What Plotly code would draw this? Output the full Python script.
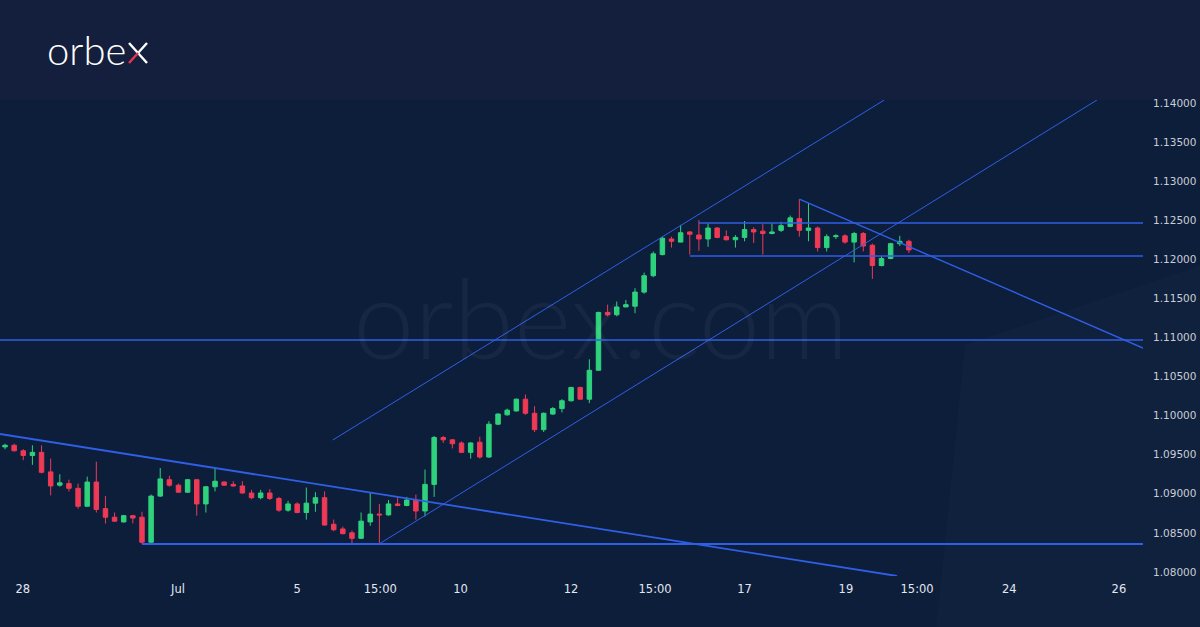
import plotly.graph_objects as go

# ---- 4H candles (EURUSD, late Jun - Jul) ----
opens = [1.0960, 1.0962, 1.0955, 1.0949, 1.0953, 1.0928, 1.0911, 1.0913, 1.0907, 1.0884,
         1.0915, 1.0881, 1.0870, 1.0864, 1.0872, 1.0870, 1.0838, 1.0897, 1.0918, 1.0911,
         1.0902, 1.0918, 1.0887, 1.0909, 1.0915, 1.0912, 1.0910, 1.0901, 1.0895, 1.0901,
         1.0894, 1.0879, 1.0887, 1.0876, 1.0888, 1.0895, 1.0861, 1.0855, 1.0850, 1.0843,
         1.0864, 1.0874, 1.0873, 1.0887, 1.0885, 1.0892, 1.0878, 1.0912, 1.0972, 1.0969,
         1.0965, 1.0953, 1.0966, 1.0947, 1.0989, 1.1001, 1.1006, 1.1021, 1.1003, 1.0982,
         1.1002, 1.1009, 1.1019, 1.1036, 1.1021, 1.1058, 1.1132, 1.1129, 1.1139, 1.1140,
         1.1158, 1.1179, 1.1206, 1.1226, 1.1222, 1.1235, 1.1231, 1.1226, 1.1240, 1.1229,
         1.1225, 1.1228, 1.1238, 1.1236, 1.1233, 1.1237, 1.1242, 1.1252, 1.1237, 1.1240,
         1.1215, 1.1229, 1.1230, 1.1222, 1.1233, 1.1218, 1.1192, 1.1201, 1.1220, 1.1223]
highs = [1.0964, 1.0964, 1.0957, 1.0962, 1.0962, 1.0945, 1.0925, 1.0918, 1.0913, 1.0922,
         1.0941, 1.0897, 1.0876, 1.0873, 1.0873, 1.0877, 1.0899, 1.0933, 1.0923, 1.0913,
         1.0919, 1.0919, 1.0910, 1.0933, 1.0916, 1.0916, 1.0916, 1.0905, 1.0905, 1.0906,
         1.0896, 1.0891, 1.0889, 1.0908, 1.0902, 1.0903, 1.0867, 1.0858, 1.0853, 1.0876,
         1.0901, 1.0887, 1.0892, 1.0896, 1.0896, 1.0899, 1.0931, 1.0974, 1.0974, 1.0970,
         1.0967, 1.0966, 1.0973, 1.0993, 1.1003, 1.1009, 1.1022, 1.1027, 1.1012, 1.1004,
         1.1011, 1.1021, 1.1037, 1.1037, 1.1072, 1.1133, 1.1142, 1.1146, 1.1148, 1.1163,
         1.1183, 1.1210, 1.1229, 1.1229, 1.1244, 1.1236, 1.1250, 1.1246, 1.1241, 1.1237,
         1.1231, 1.1249, 1.1241, 1.1245, 1.1246, 1.1248, 1.1256, 1.1277, 1.1272, 1.1242,
         1.1232, 1.1232, 1.1232, 1.1235, 1.1235, 1.1220, 1.1204, 1.1221, 1.1230, 1.1225]
lows = [1.0957, 1.0954, 1.0943, 1.0937, 1.0926, 1.0898, 1.0909, 1.0903, 1.0881, 1.0884,
        1.0876, 1.0862, 1.0864, 1.0863, 1.0862, 1.0836, 1.0837, 1.0896, 1.0909, 1.0901,
        1.0901, 1.0872, 1.0876, 1.0903, 1.0910, 1.0909, 1.0900, 1.0893, 1.0893, 1.0892,
        1.0877, 1.0877, 1.0875, 1.0867, 1.0877, 1.0859, 1.0852, 1.0848, 1.0836, 1.0842,
        1.0859, 1.0836, 1.0872, 1.0884, 1.0884, 1.0867, 1.0871, 1.0896, 1.0965, 1.0958,
        1.0952, 1.0945, 1.0945, 1.0946, 1.0988, 1.1000, 1.1005, 1.1001, 1.0979, 1.0979,
        1.1001, 1.1004, 1.1018, 1.1021, 1.1016, 1.1058, 1.1127, 1.1127, 1.1139, 1.1131,
        1.1156, 1.1177, 1.1205, 1.1215, 1.1222, 1.1206, 1.1211, 1.1216, 1.1227, 1.1224,
        1.1215, 1.1223, 1.1221, 1.1206, 1.1232, 1.1235, 1.1241, 1.1229, 1.1223, 1.1210,
        1.1210, 1.1226, 1.1220, 1.1196, 1.1210, 1.1175, 1.1191, 1.1200, 1.1217, 1.1208]
closes = [1.0962, 1.0955, 1.0949, 1.0953, 1.09275, 1.0910, 1.0914, 1.0907, 1.0884, 1.0915,
          1.0880, 1.0870, 1.0865, 1.0872, 1.0869, 1.0838, 1.0897, 1.0919, 1.0911, 1.0902,
          1.0918, 1.0887, 1.0909, 1.0916, 1.0911, 1.0910, 1.0901, 1.0895, 1.0901, 1.0894,
          1.0879, 1.0887, 1.0876, 1.0888, 1.0895, 1.0860, 1.0854, 1.0849, 1.0843, 1.0865,
          1.0874, 1.0873, 1.0887, 1.0885, 1.0892, 1.0878, 1.0912, 1.0972, 1.0969, 1.0964,
          1.0953, 1.0965, 1.0947, 1.0989, 1.1002, 1.1007, 1.1021, 1.1003, 1.0982, 1.1003,
          1.1009, 1.1019, 1.1036, 1.1021, 1.1058, 1.1132, 1.1129, 1.1139, 1.1142, 1.1158,
          1.1179, 1.1207, 1.1227, 1.1223, 1.1234, 1.1232, 1.1226, 1.1240, 1.1228, 1.1225,
          1.1228, 1.1238, 1.1235, 1.1233, 1.1235, 1.1243, 1.1253, 1.1237, 1.1240, 1.1215,
          1.1229, 1.1230, 1.1222, 1.1233, 1.1217, 1.1192, 1.1201, 1.1220, 1.1223, 1.1212]

# ---- axis ticks (bar positions) ----
x_tick_pos = [1.94, 18.95, 32, 41.1, 49.9, 62, 71.2, 81, 92.1, 99.9, 110, 122]
x_tick_text = ["28", "Jul", "5", "15:00", "10", "12", "15:00", "17", "19", "15:00", "24", "26"]
y_ticks = [1.08, 1.085, 1.09, 1.095, 1.10, 1.105, 1.11, 1.115, 1.12, 1.125, 1.13, 1.135, 1.14]

x_range = [-0.55, 124.64]
y_range = [1.07948, 1.14038]

# ---- drawn levels / trendlines: (bar0, price0, bar1, price1, width) ----
support_level = 1.08358
mid_level = 1.10968
range_top = 1.12465
range_bottom = 1.12042
trendlines = [
    (15, support_level, 124.64, support_level, 2.0),        # support
    (-0.55, mid_level, 124.64, mid_level, 1.6),             # 1.11 level
    (76, range_top, 124.64, range_top, 1.6),                # range top
    (75, range_bottom, 124.64, range_bottom, 1.6),          # range bottom
    (-0.55, 1.09765, 97.7, 1.07948, 1.8),                   # long falling line
    (41, 1.0836, 119.6, 1.14038, 1.0),                      # channel lower
    (35.9, 1.09688, 96.3, 1.14038, 1.0),                    # channel upper
    (87, 1.1277, 124.64, 1.10865, 1.4),                     # short falling line
]

GREEN = "#2fd27c"
RED = "#ef3a55"
LINE = "#2f5fe6"

PW, PT, PB = 1143, 100, 576          # plot area in page pixels (for paper coords)
def px(x):
    return x / PW
def py(y):
    return (PB - y) / (PB - PT)

fig = go.Figure()
fig.add_trace(go.Candlestick(
    x=list(range(len(opens))), open=opens, high=highs, low=lows, close=closes,
    increasing=dict(line=dict(color=GREEN, width=1), fillcolor=GREEN),
    decreasing=dict(line=dict(color=RED, width=1), fillcolor=RED),
    whiskerwidth=0, showlegend=False, hoverinfo="skip",
))

shapes = []
# header band
shapes.append(dict(type="rect", xref="paper", yref="paper", x0=-0.02, x1=1.1, y0=1.0, y1=1.3,
                   fillcolor="#131f3d", line=dict(width=0), layer="below"))
# faint decorative wedge bottom-right
shapes.append(dict(type="path", xref="paper", yref="paper",
                   path=f"M {px(935)},{py(640)} L {px(965)},{py(345)} L {px(1210)},{py(262)} L {px(1210)},{py(640)} Z",
                   fillcolor="rgba(255,255,255,0.014)", line=dict(width=0), layer="below"))
for x0, y0, x1, y1, w in trendlines:
    shapes.append(dict(type="line", xref="x", yref="y", x0=x0, y0=y0, x1=x1, y1=y1,
                       line=dict(color=LINE, width=w), layer="above"))

# logo "x" glyph: white "\" + white upper "/" + red lower "/"
logo_x = [(129, 43, 147, 63, "#ffffff"), (147, 43, 138, 53, "#ffffff"), (138, 53, 129, 63, "#e8344e")]
for x0, y0, x1, y1, c in logo_x:
    shapes.append(dict(type="line", xref="paper", yref="paper",
                       x0=px(x0), y0=py(y0), x1=px(x1), y1=py(y1),
                       line=dict(color=c, width=2.4)))

annotations = [
    dict(text="orbex.com", xref="paper", yref="paper", x=px(601), y=py(316),
         xanchor="center", yanchor="middle", showarrow=False,
         font=dict(family="Lato", size=110, color="rgba(255,255,255,0.045)", weight=300)),
    dict(text="orbe", xref="paper", yref="paper", x=px(45), y=py(50),
         xanchor="left", yanchor="middle", showarrow=False,
         font=dict(family="Lato", size=40, color="#ffffff", weight=300)),
]

fig.update_layout(
    width=1200, height=627,
    margin=dict(l=0, r=57, t=100, b=51),
    paper_bgcolor="#0d1e3b", plot_bgcolor="rgba(0,0,0,0)",
    shapes=shapes, annotations=annotations,
    xaxis=dict(range=x_range, rangeslider=dict(visible=False), showgrid=False, zeroline=False,
               showline=False, tickmode="array", tickvals=x_tick_pos, ticktext=x_tick_text,
               ticks="", tickfont=dict(family="DejaVu Sans", size=11.5, color="#e4e7ee"),
               ticklabelstandoff=4, automargin=False, fixedrange=True),
    yaxis=dict(range=y_range, side="right", showgrid=False, zeroline=False, showline=False,
               tickmode="array", tickvals=y_ticks, tickformat=".5f", ticks="",
               tickfont=dict(family="DejaVu Sans", size=10.5, color="#c9cdd6"),
               ticklabelstandoff=9, automargin=False, fixedrange=True),
    boxgap=0.3,
)

fig.write_html("out.html", config={"displayModeBar": False},
               post_script="document.body.style.margin='0';document.body.style.overflow='hidden';")
